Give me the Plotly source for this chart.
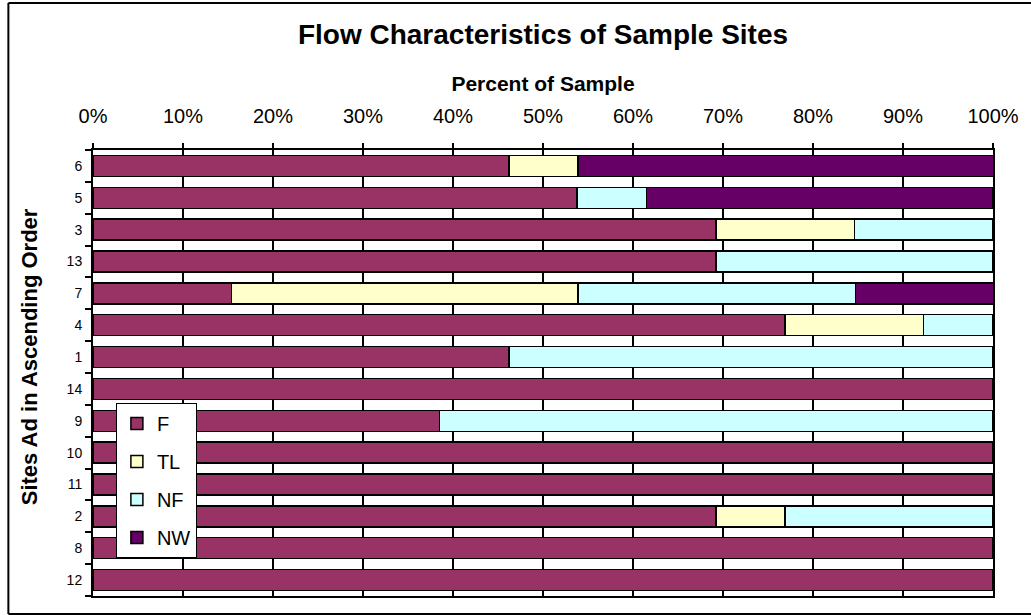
import plotly.graph_objects as go

sites = ["6", "5", "3", "13", "7", "4", "1", "14", "9", "10", "11", "2", "8", "12"]
F = [46.2, 53.8, 69.2, 69.2, 15.4, 76.9, 46.2, 100, 38.5, 100, 100, 69.2, 100, 100]
TL = [7.7, 0, 15.4, 0, 38.5, 15.4, 0, 0, 0, 0, 0, 7.7, 0, 0]
NF = [0, 7.7, 15.4, 30.8, 30.8, 7.7, 53.8, 0, 61.5, 0, 0, 23.1, 0, 0]
NW = [46.2, 38.5, 0, 0, 15.4, 0, 0, 0, 0, 0, 0, 0, 0, 0]
tick_vals = [0, 10, 20, 30, 40, 50, 60, 70, 80, 90, 100]

series = [("F", F, "#993366"), ("TL", TL, "#FFFFCC"), ("NF", NF, "#CCFFFF"), ("NW", NW, "#660066")]

fig = go.Figure()
for name, vals, col in series:
    fig.add_trace(go.Bar(
        y=sites, x=vals, name=name, orientation="h",
        marker=dict(color=col, line=dict(color="black", width=1.5)),
        legendgroup=name,
    ))

L, R, T, B = 93, 34, 150, 19
PW, PH = 1031 - L - R, 615 - T - B

fig.update_layout(
    barmode="stack",
    bargap=0.34,
    width=1031, height=615,
    margin=dict(l=L, r=R, t=T, b=B),
    paper_bgcolor="white", plot_bgcolor="white",
    font=dict(family="Liberation Sans, Arial, sans-serif", color="black"),
    title=dict(text="<b>Flow Characteristics of Sample Sites</b>", x=0.5, xref="paper",
               xanchor="center", y=1 - 34 / 615, yanchor="middle", font=dict(size=28)),
    legend=dict(x=(116 - L) / PW, y=(596 - 403) / PH, xanchor="left", yanchor="top",
                bgcolor="white", bordercolor="black", borderwidth=1,
                font=dict(size=20), traceorder="grouped", tracegroupgap=9),
    xaxis=dict(side="top", range=[0, 100], tickvals=tick_vals,
               ticktext=[f"{v}%" for v in tick_vals],
               ticks="outside", ticklen=5, tickcolor="black", tickwidth=1.5,
               ticklabelstandoff=12,
               tickfont=dict(size=20),
               showgrid=True, gridcolor="black", gridwidth=1.5,
               showline=True, linecolor="black", linewidth=2, mirror=True,
               zeroline=False,
               title=dict(text="<b>Percent of Sample</b>", font=dict(size=21), standoff=8)),
    yaxis=dict(categoryorder="array", categoryarray=sites[::-1], autorange=True,
               ticks="outside", tickson="boundaries", ticklen=6, tickcolor="black", tickwidth=1.5,
               tickfont=dict(size=14), ticklabelstandoff=6,
               showline=True, linecolor="black", linewidth=2, mirror=True),
)

fig.add_annotation(text="<b>Sites Ad in Ascending Order</b>", textangle=-90,
                   xref="paper", yref="paper", x=(29 - L) / PW, y=(596 - 357) / PH,
                   xanchor="center", yanchor="middle", showarrow=False,
                   font=dict(size=22))

# outer chart border
x0 = (8 - L) / PW
x1 = (1031 - L) / PW + 0.01
yt = (596 - 3) / PH
yb = (596 - 614) / PH
for (xa, ya, xb, yb2) in [(x0, yt, x1, yt), (x0, yt, x0, yb), (x0, yb, x1, yb)]:
    fig.add_shape(type="line", xref="paper", yref="paper", x0=xa, y0=ya, x1=xb, y1=yb2,
                  line=dict(color="black", width=2), layer="above")

fig.write_html("out.html", config={"displayModeBar": False},
               post_script="document.body.style.margin='0';document.body.style.overflow='hidden';")
